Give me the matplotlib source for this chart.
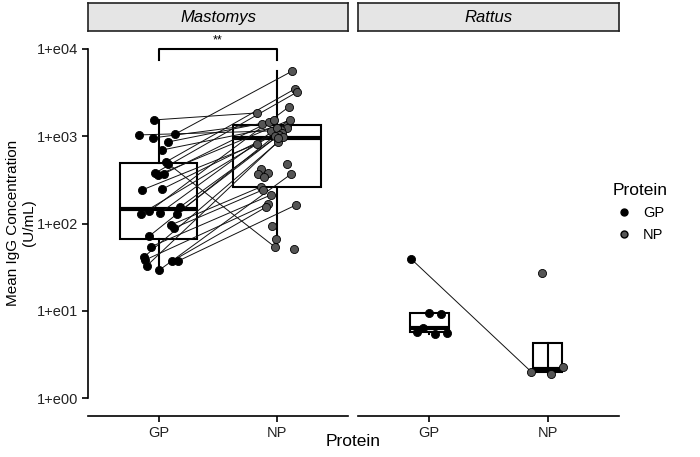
import numpy as np
import matplotlib
matplotlib.use("Agg")
import matplotlib.pyplot as plt
from matplotlib.lines import Line2D

plt.rcParams['font.family'] = ['Liberation Sans', 'DejaVu Sans']

categories = ["GP", "NP"]
panels = ["Mastomys", "Rattus"]

# Mastomys: first 28 NP values are paired (in order) with GP values
mast_gp = [1538, 1035, 957, 1062, 861, 697, 508, 482, 380, 360, 370, 243, 249, 129,
           139, 132, 129, 155, 96, 89, 72, 54, 41, 38, 33, 37, 37, 29]
mast_np = [1850, 1150, 1385, 5600, 1460, 1345, 3480, 54, 3210, 1540, 1540, 817, 1245, 1180,
           2170, 1245, 1090, 1035, 262, 243, 1008, 213, 861, 168, 982, 155, 163, 370,
           482, 422, 380, 370, 342, 94, 67, 51, 957]
mast_gp_jit = [-0.04, -0.17, -0.05, 0.14, 0.08, 0.03, 0.06, 0.08, -0.03, -0.01, 0.04, -0.14,
               0.03, -0.15, -0.08, 0.01, 0.15, 0.18, 0.10, 0.13, -0.08, -0.07, -0.13, -0.12,
               -0.10, 0.11, 0.16, 0.0]
mast_np_jit = [-0.17, -0.05, -0.13, 0.13, -0.07, 0.08, 0.15, -0.02, 0.17, 0.11, -0.03, -0.17,
               0.08, 0.03, 0.10, 0.0, 0.04, 0.02, -0.14, -0.12, -0.02, -0.05, 0.01, -0.08,
               0.05, -0.09, 0.16, 0.12, 0.08, -0.14, -0.08, -0.16, -0.11, -0.04, -0.01,
               0.14, 0.01]
mast_pairs = 28

# Rattus: first value of each paired
rat_gp = [39, 9.5, 9.2, 6.4, 5.7, 5.4, 5.6]
rat_np = [2.0, 27, 1.9, 2.27]
rat_gp_jit = [-0.15, 0.0, 0.10, -0.05, -0.10, 0.05, 0.15]
rat_np_jit = [-0.14, -0.05, 0.03, 0.13]
rat_pairs = 1

ytick_vals = [1, 10, 100, 1000, 10000]
ytick_labels = ["1+e00", "1+e01", "1+e02", "1+e03", "1+e04"]

gp_color = "#000000"
np_color = "#555555"

W, H = 700, 457
fig = plt.figure(figsize=(7, 4.57), dpi=100)

def px_axes(x0, y0, x1, y1):
    return fig.add_axes([x0 / W, 1 - y1 / H, (x1 - x0) / W, (y1 - y0) / H])

ax1 = px_axes(88, 31, 348, 416)
ax2 = px_axes(358, 31, 619, 416)
s1 = px_axes(88, 3, 348, 31)
s2 = px_axes(358, 3, 619, 31)

nmax = max(len(mast_gp), len(mast_np), len(rat_gp), len(rat_np))

def log_stats(vals):
    lv = np.log10(np.asarray(vals, float))
    q1, med, q3 = np.percentile(lv, [25, 50, 75])
    iqr = q3 - q1
    lo = lv[lv >= q1 - 1.5 * iqr].min()
    hi = lv[lv <= q3 + 1.5 * iqr].max()
    return dict(med=10 ** med, q1=10 ** q1, q3=10 ** q3, whislo=10 ** lo, whishi=10 ** hi, fliers=[])

def draw_panel(ax, gp, npv, gpj, npj, npairs):
    ax.set_yscale('log')
    stats = [log_stats(gp), log_stats(npv)]
    widths = [0.75 * np.sqrt(len(gp)) / np.sqrt(nmax), 0.75 * np.sqrt(len(npv)) / np.sqrt(nmax)]
    ax.bxp(stats, positions=[1, 2], widths=widths, showfliers=False, showcaps=False,
           patch_artist=True,
           boxprops=dict(facecolor='white', edgecolor='black', linewidth=1.5),
           whiskerprops=dict(color='black', linewidth=1.5),
           medianprops=dict(color='black', linewidth=3),
           zorder=1)
    gx = [1 + j for j in gpj]
    nx = [2 + j for j in npj]
    for i in range(npairs):
        ax.plot([gx[i], nx[i]], [gp[i], npv[i]], color='#111111', lw=0.7, zorder=2)
    ax.scatter(gx, gp, s=34, facecolor=gp_color, edgecolor='black', linewidth=0.6, zorder=3)
    ax.scatter(nx, npv, s=34, facecolor=np_color, edgecolor='black', linewidth=0.6, zorder=3)
    ax.set_xlim(0.4, 2.6)
    ax.set_ylim(10 ** -0.206, 10 ** 4.206)
    ax.set_xticks([1, 2])
    ax.set_xticklabels(categories, fontsize=10.5, color='#222222')
    ax.tick_params(axis='x', length=4, width=1.2, pad=3)
    ax.spines['top'].set_visible(False)
    ax.spines['right'].set_visible(False)
    ax.spines['bottom'].set_linewidth(1.2)
    ax.minorticks_off()
    ax.patch.set_alpha(0)

draw_panel(ax1, mast_gp, mast_np, mast_gp_jit, mast_np_jit, mast_pairs)
draw_panel(ax2, rat_gp, rat_np, rat_gp_jit, rat_np_jit, rat_pairs)

ax1.set_yticks(ytick_vals)
ax1.set_yticklabels(ytick_labels, fontsize=10.5, color='#222222')
ax1.tick_params(axis='y', length=4, width=1.2, pad=3, which='major')
ax1.tick_params(axis='y', which='minor', length=0)
ax1.spines['left'].set_linewidth(1.2)
ax1.spines['left'].set_bounds(ytick_vals[0], ytick_vals[-1])

ax2.spines['left'].set_visible(False)
ax2.set_yticks([])
ax2.tick_params(axis='y', which='both', length=0, labelleft=False)

# significance bracket
yb, yt = 10000, 10 ** 3.874
ax1.plot([1, 1, 2, 2], [yt, yb, yb, yt], color='black', lw=1.5, clip_on=False, zorder=4)
ax1.text(1.5, 10 ** 4.03, "**", ha='center', va='bottom', fontsize=9, clip_on=False)

for s, name in zip([s1, s2], panels):
    s.set_facecolor('#e5e5e5')
    s.set_xticks([]); s.set_yticks([])
    for sp in s.spines.values():
        sp.set_linewidth(1.2)
        sp.set_color('#222222')
    s.text(0.5, 0.48, name, ha='center', va='center', style='italic', fontsize=12,
           transform=s.transAxes)

fig.text(353 / W, 1 - 441 / H, "Protein", ha='center', va='center', fontsize=12.5)
fig.text(21 / W, 1 - 223 / H, "Mean IgG Concentration\n(U/mL)", ha='center', va='center',
         rotation=90, fontsize=11, multialignment='center')

handles = [Line2D([], [], marker='o', ls='', markerfacecolor=gp_color, markeredgecolor='black',
                  markersize=5, label='GP'),
           Line2D([], [], marker='o', ls='', markerfacecolor=np_color, markeredgecolor='black',
                  markersize=5, label='NP')]
leg = fig.legend(handles=handles, title='Protein', loc='upper left',
                 bbox_to_anchor=(599 / W, 1 - 170 / H), frameon=False, fontsize=10.5,
                 title_fontsize=12.5, handletextpad=0.5, handlelength=1.6, labelspacing=0.55)
leg._legend_box.align = 'left'

fig.savefig("out.png", dpi=100)
